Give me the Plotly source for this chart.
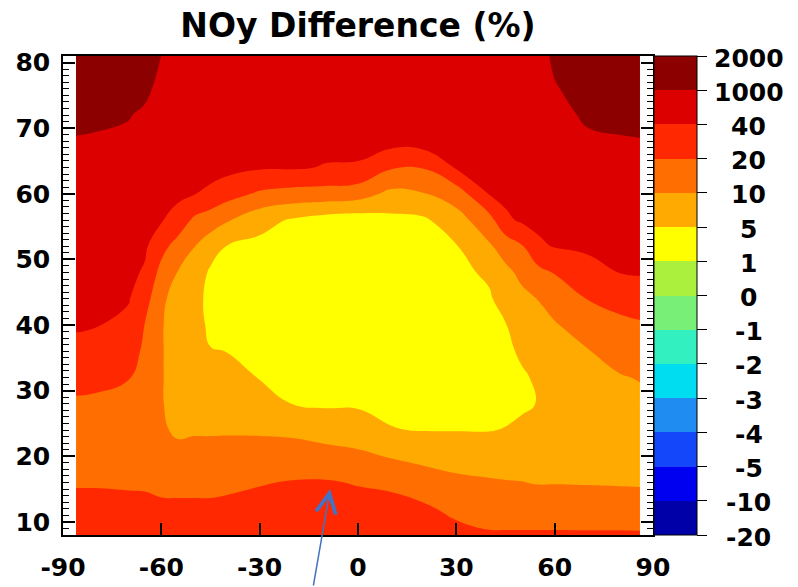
import numpy as np
import plotly.graph_objects as go

# ---- data -------------------------------------------------------------
title_text = "NOy Difference (%)"

latitudes = [-86, -80, -70, -65, -60, -55, -50, -45, -40, -30, -20, -10,
             0, 10, 20, 30, 40, 45, 50, 55, 60, 70, 80, 86]
altitudes = [8, 12, 16, 20, 24, 28, 32, 36, 40, 44, 48, 52, 56, 60, 64,
             68, 72, 76, 81]

# NOy difference (%), one profile per latitude, from 8 km up to 81 km
noy_diff_by_lat = [
    [32, 25.2, 19.3, 16.4, 16.3, 18.8, 25.4, 35.4, 126, 280, 443, 568, 664, 770, 866, 962, 1150, 1400, 1700],
    [32, 25.2, 19.3, 16.4, 16.2, 18.6, 24, 33.2, 78, 222, 376, 520, 626, 731, 837, 942, 1110, 1350, 1650],
    [32, 24.6, 19, 16.3, 16, 18.1, 20.6, 28, 35.4, 98, 251, 405, 549, 664, 779, 894, 1030, 1280, 1600],
    [32, 24.2, 18.9, 16.4, 14, 15.4, 16.9, 18.3, 19.7, 28, 37.8, 174, 347, 520, 654, 789, 914, 1120, 1500],
    [30, 23.2, 17.9, 14.4, 11.5, 11, 11, 11, 11, 12, 16.8, 26.8, 107, 290, 472, 606, 731, 846, 990],
    [30, 23.2, 17.7, 13.3, 9.15, 7.25, 7, 7, 7, 7.95, 9.85, 16, 33, 232, 405, 558, 635, 712, 808],
    [30, 23.2, 17.7, 13.3, 9.5, 7.9, 7.5, 7.5, 7.5, 7.5, 8.75, 10.2, 18.2, 69, 290, 520, 597, 664, 760],
    [30, 23.2, 17.7, 13.3, 9.5, 7.5, 6.4, 5.25, 4.04, 3.4, 4.28, 7.65, 14.3, 37, 280, 414, 558, 626, 712],
    [30, 23.8, 18.3, 13.8, 9.5, 7.5, 6.25, 4.96, 4, 3, 3.96, 4.88, 11, 28, 328, 424, 520, 587, 712],
    [32, 25.6, 19.5, 14.1, 9.4, 6.95, 4.88, 4.2, 3.52, 3, 3.84, 4, 6.75, 18.5, 136, 299, 520, 606, 712],
    [33, 27, 21, 14.7, 8.95, 4.96, 4.28, 3.6, 2.92, 2.92, 3.6, 4.28, 4.6, 16.5, 136, 328, 520, 606, 712],
    [33, 27.2, 21.4, 14.3, 7.5, 4.6, 4.04, 3.32, 2.6, 3.16, 3.76, 3.8, 3.4, 16, 39, 280, 520, 606, 712],
    [32, 25.8, 19.5, 12.2, 7, 4.6, 3.96, 3.28, 2.6, 3.16, 3.72, 3.4, 3, 14.5, 38, 328, 520, 606, 712],
    [32, 25.2, 18.5, 9.65, 5.15, 4.44, 3.8, 3.2, 2.6, 3, 3.4, 3.4, 4, 8.75, 22, 376, 472, 568, 712],
    [31, 23, 15, 8.6, 4.88, 4.36, 3.8, 3.2, 2.6, 3, 3.4, 3.8, 4.4, 9.75, 21, 472, 520, 568, 712],
    [26, 17.7, 12.2, 7.95, 4.88, 4.2, 3.56, 2.92, 2.92, 3.56, 4.2, 4.8, 8, 14.7, 136, 299, 520, 597, 712],
    [22, 16, 11, 7.7, 4.88, 4.24, 3.56, 3.16, 3.88, 4.6, 5.65, 9.4, 16.3, 78, 251, 434, 539, 616, 712],
    [22, 15.8, 10.5, 7.7, 5.15, 4.2, 3.4, 4.12, 4.84, 6.75, 8.9, 14, 36, 280, 386, 520, 578, 635, 712],
    [22, 15.7, 10.2, 8, 5.9, 4.48, 4.48, 5.8, 7.35, 8.9, 12.1, 19.3, 184, 261, 434, 549, 597, 645, 712],
    [22, 15.8, 9.75, 7.5, 6.25, 5.15, 5.75, 6.5, 8.3, 10.3, 17, 37, 232, 299, 443, 549, 597, 645, 712],
    [22, 15.8, 9.8, 8.25, 7.4, 7.2, 7, 8.3, 9.6, 14.2, 21, 88, 232, 424, 578, 702, 818, 942, 1150],
    [22, 15.5, 9.7, 8.4, 7.7, 7.55, 8.05, 9.75, 14.6, 20.4, 34, 174, 405, 597, 750, 904, 1090, 1310, 1600],
    [22, 15.4, 9.55, 8, 7.85, 8.4, 9.7, 13.5, 17.8, 26.6, 59, 232, 424, 606, 779, 952, 1160, 1380, 1650],
    [22, 15, 9.5, 8, 8, 8.9, 10.5, 14.6, 18.8, 30.4, 107, 318, 520, 616, 760, 971, 1200, 1430, 1700],
]

# contour level boundaries (%) and their labels on the colour bar
level_bounds = [-20, -10, -5, -4, -3, -2, -1, 0, 1, 5, 10, 20, 40, 1000, 2000]
level_labels = ["-20", "-10", "-5", "-4", "-3", "-2", "-1", "0", "1", "5",
                "10", "20", "40", "1000", "2000"]

# one fill colour per band, lowest band first
band_colors = ["#0000a8", "#0000f0", "#1446fa", "#1e8cf0", "#00dcf0",
               "#32f0c0", "#78f078", "#aaf03c", "#ffff00", "#ffaa00",
               "#ff6e00", "#ff2800", "#dc0000", "#8c0000"]

lat_ticks = [-90, -60, -30, 0, 30, 60, 90]

# ---- build ------------------------------------------------------------
# uneven level boundaries -> equally spaced band positions for the colour bar
n_bands = len(level_bounds) - 1
z_pct = np.array(noy_diff_by_lat, dtype=float).T
band_position = np.interp(z_pct, level_bounds, np.arange(len(level_bounds)))

colorscale = []
for k, c in enumerate(band_colors):
    colorscale.append([k / n_bands, c])
    colorscale.append([(k + 1) / n_bands, c])

label_font = dict(family="DejaVu Sans", size=25, color="black", weight="bold")

fig = go.Figure()
fig.add_trace(go.Contour(
    x=latitudes, y=altitudes, z=band_position,
    zmin=0, zmax=n_bands,
    autocontour=False,
    contours=dict(start=0, end=n_bands, size=1, coloring="fill", showlines=False),
    line=dict(width=0, smoothing=1.3),
    colorscale=colorscale,
    colorbar=dict(
        x=1.0, xanchor="left", xpad=1, y=0.5, yanchor="middle",
        len=1.0, ypad=0, thickness=43,
        outlinewidth=1, outlinecolor="black",
        tickmode="array", tickvals=list(range(len(level_bounds))),
        ticks="outside", ticklen=10, tickwidth=1.2, tickcolor="black",
        showticklabels=False,
    ),
    hoverinfo="skip",
))

# colour-bar labels, centred to the right of the bar
annotations = []
for k, lab in enumerate(level_labels):
    annotations.append(dict(
        x=1.1627, xref="paper", y=k / n_bands, yref="paper",
        text=lab, showarrow=False, xanchor="center", yanchor="middle",
        yshift=-2, font=label_font,
    ))

# pointer to the lower red-orange bulge
annotations.append(dict(
    x=-8.5, y=15.0, xref="x", yref="y", text="",
    showarrow=True, arrowhead=5, arrowsize=2.6, arrowwidth=1.5,
    arrowcolor="#4472c4", ax=-17, ay=99,
))

fig.update_xaxes(
    range=[-90, 90], tickmode="array", tickvals=lat_ticks,
    ticktext=[str(v) for v in lat_ticks],
    ticks="inside", ticklen=12, tickwidth=1.5, tickcolor="black",
    showline=True, linecolor="black", linewidth=1.5, mirror=True,
    showgrid=False, zeroline=False, tickfont=label_font, ticklabelstandoff=9,
    automargin=False,
)
fig.update_yaxes(
    range=[8, 81], tickmode="linear", tick0=0, dtick=10,
    ticks="inside", ticklen=12, tickwidth=1.5, tickcolor="black",
    minor=dict(tickmode="linear", tick0=0, dtick=1, ticks="inside",
               ticklen=6, tickwidth=1, tickcolor="black"),
    showline=True, linecolor="black", linewidth=1.5, mirror="ticks",
    showgrid=False, zeroline=False, tickfont=label_font, ticklabelstandoff=6,
    automargin=False,
)

fig.update_layout(
    width=798, height=587,
    margin=dict(l=63, r=145, t=56, b=52, autoexpand=False),
    paper_bgcolor="white", plot_bgcolor="white",
    font=dict(family="DejaVu Sans", color="black"),
    title=dict(text=title_text, x=0.5, xref="paper", xanchor="center",
               y=0.957, yref="container", yanchor="middle",
               font=dict(family="DejaVu Sans", size=33, color="black", weight="bold")),
    annotations=annotations,
    showlegend=False,
)

fig.write_html("out.html")
